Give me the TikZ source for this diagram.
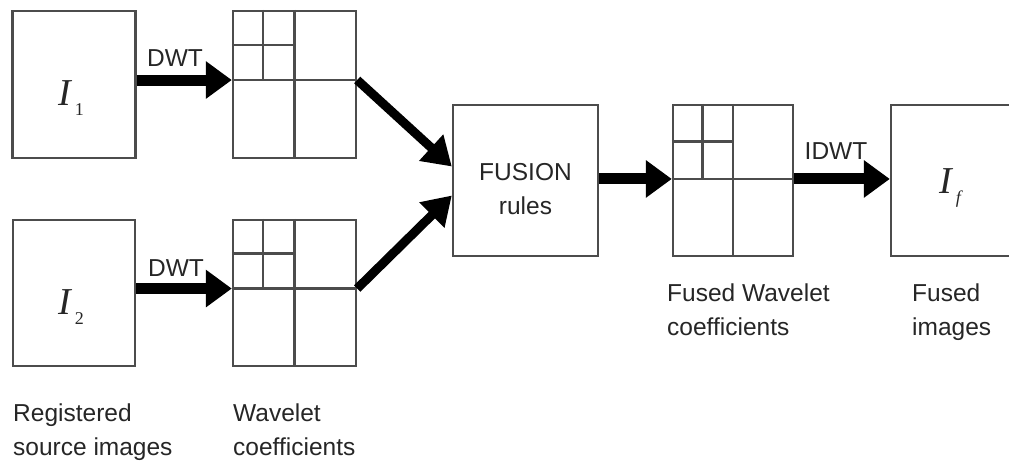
\documentclass[tikz,border=0pt]{standalone}
\usepackage{fontspec}
\setmainfont{Liberation Sans}
\newfontfamily\symserif{Liberation Serif}
\usetikzlibrary{arrows.meta,calc}

\tikzset{
  frame/.style={draw=black!70, line width=2.4pt, rectangle, inner sep=0pt},
  gridline/.style={draw=black!70, line width=2.4pt},
  fat/.style={line width=11pt, -{Triangle[length=26pt,width=36pt]}},
  slim/.style={line width=9pt, -{Triangle[length=28pt,width=34pt]}},
  lbl/.style={font=\fontsize{24.5}{34}\selectfont, text=black!85, inner sep=0pt, align=left, anchor=base west},
  tag/.style={font=\fontsize{24.5}{34}\selectfont, text=black!85, inner sep=0pt, anchor=base},
  sym/.style={inner sep=0pt, anchor=base west, text=black!85},
}

% image symbol: italic I with a lowered index
\newcommand\imgsym[1]{{\symserif\fontsize{38}{38}\selectfont\itshape I}\kern4pt\raisebox{-10pt}{\symserif\fontsize{18}{18}\selectfont #1}}

% wavelet sub-band lines of a coefficient grid node
\newcommand\bandlines[2]{%
  \coordinate (#1-s) at ($(#1.north)!#2!(#1.south)$);
  \coordinate (#1-q) at ($(#1.north west)!0.5!(#1-s)$);
  \draw[gridline] (#1.north) -- (#1.south);
  \draw[gridline] (#1.west |- #1-s) -- (#1.east |- #1-s);
  \draw[gridline] (#1-q |- #1.north) -- (#1-q |- #1-s);
  \draw[gridline] (#1.west |- #1-q) -- (#1-s |- #1-q);
}

\begin{document}
\begin{tikzpicture}[x=1pt, y=-1pt]
  \useasboundingbox (0,0) rectangle (1009,461);
  \clip (0,0) rectangle (1009,461);

  % source images
  \node[frame, minimum width=123pt, minimum height=147pt] (img1) at (74,84.5) {};
  \node[frame, minimum width=122pt, minimum height=146pt] (img2) at (74,293) {};
  \node[sym] (img1sym) at (58,105) {\imgsym{1}};
  \node[sym] (img2sym) at (58,314) {\imgsym{2}};

  % wavelet coefficients
  \node[frame, minimum width=123pt, minimum height=147pt] (grid1) at (294.5,84.5) {};
  \node[frame, minimum width=123pt, minimum height=146pt] (grid2) at (294.5,293) {};
  \bandlines{grid1}{0.47}
  \bandlines{grid2}{0.47}

  % fusion stage
  \node[frame, minimum width=145pt, minimum height=151pt] (fusion) at (525.5,180.5) {};
  \node[tag, align=center] (fusiontxt) at (525.5,214) {FUSION\\rules};

  % fused coefficients
  \node[frame, minimum width=120pt, minimum height=151pt] (fgrid) at (733,180.5) {};
  \bandlines{fgrid}{0.49}

  % fused image
  \node[frame, minimum width=145pt, minimum height=151pt] (final) at (963.5,180.5) {};
  \node[sym] (finalsym) at (939,193) {\imgsym{\itshape f}};

  % transforms
  \draw[fat] (img1.east |- grid1-s) -- (grid1-s -| grid1.west);
  \draw[fat] (img2.east |- grid2-s) -- (grid2-s -| grid2.west);
  \node[tag] (dwt1) at (175,66) {DWT};
  \node[tag] (dwt2) at (176,276) {DWT};

  \coordinate (fin1) at ($(fusion.west)+(0,-14)$);
  \coordinate (fin2) at ($(fusion.west)+(0,15)$);
  \draw[slim] (grid1-s -| grid1.east) -- (fin1);
  \draw[slim] (grid2-s -| grid2.east) -- (fin2);

  \draw[fat] (fusion.east |- fgrid-s) -- (fgrid-s -| fgrid.west);
  \draw[fat] (fgrid-s -| fgrid.east) -- (final.west |- fgrid-s);
  \node[tag] (idwt) at (836,159) {IDWT};

  % captions
  \node[lbl] (cap1) at (13,455) {Registered\\source images};
  \node[lbl] (cap2) at (233,455) {Wavelet\\coefficients};
  \node[lbl] (cap3) at (667,335) {Fused Wavelet\\coefficients};
  \node[lbl] (cap4) at (912,335) {Fused\\images};
\end{tikzpicture}
\end{document}
